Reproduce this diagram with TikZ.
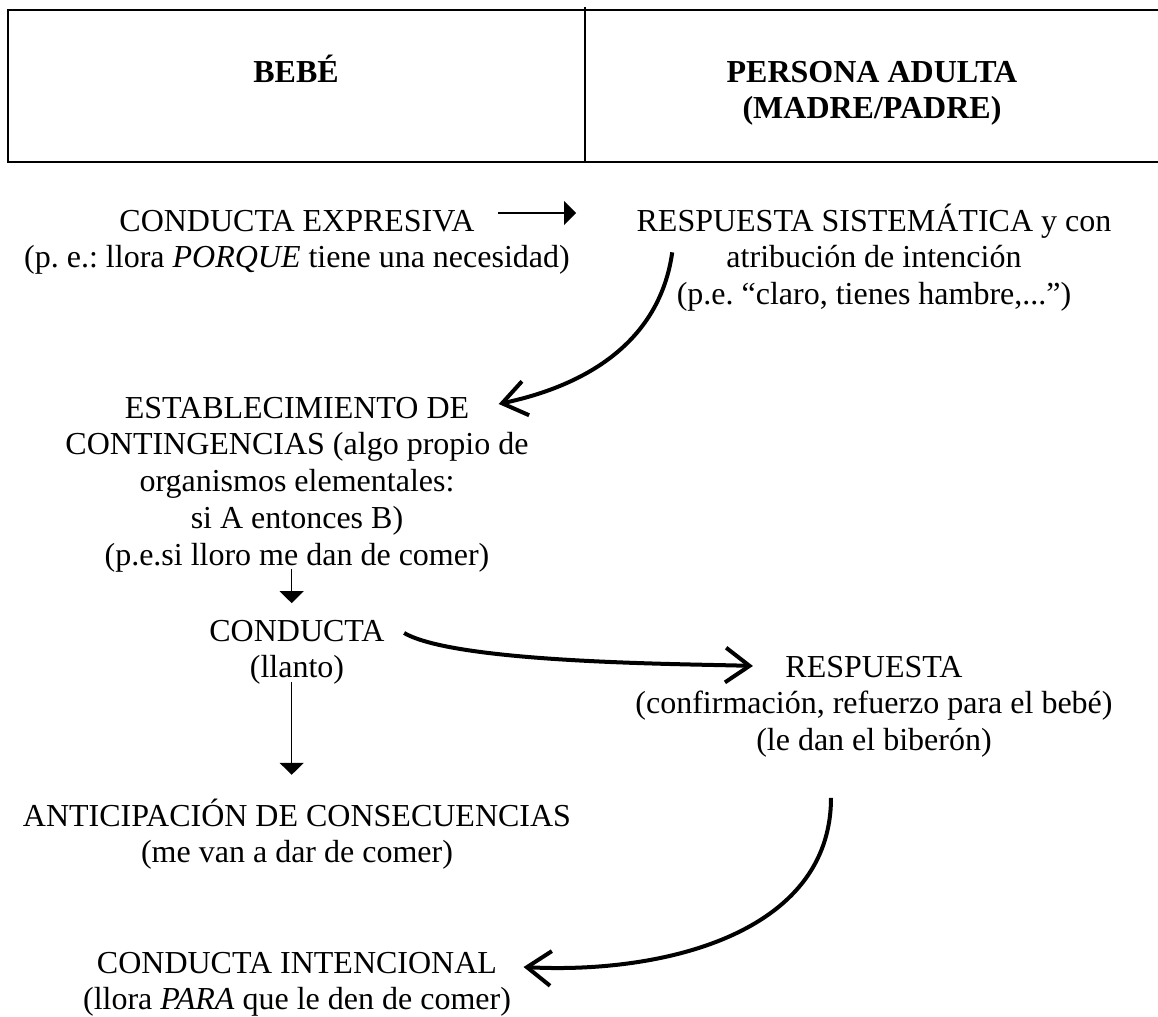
\documentclass[tikz,border=0pt]{standalone}
\usepackage{fontspec}
\setmainfont{Liberation Serif}
\usetikzlibrary{positioning}
\usetikzlibrary{arrows.meta}
\usetikzlibrary{calc}
\frenchspacing
\tikzstyle{title}=[inner sep=0pt, anchor=base, text height=9pt, text depth=3pt]
\tikzstyle{detail}=[inner sep=0pt, align=center]
\tikzstyle{head}=[title, font=\fontsize{12}{14}\selectfont\bfseries]
\tikzstyle{thinlink}=[-{Triangle[length=4.5pt, width=9pt]}, line width=0.6pt]
\tikzstyle{bentlink}=[-{Straight Barb[length=9pt, width=13pt]}, line width=1.5pt]

\begin{document}
\begin{tikzpicture}[x=0.375pt, y=-0.375pt, node distance=1.8pt, font=\fontsize{12}{13.9}\selectfont]
    \useasboundingbox (0,0) rectangle (1158,1017);

    % table header
    \draw[line width=0.75pt] (1158,10) -- (8,10) -- (8,162) -- (1158,162);
    \draw[line width=0.6pt] (585,7) -- (585,162);
    \node[head]                      (bebe)   at (296,82) {BEBÉ};
    \node[head]                      (adulto) at (872,82) {PERSONA ADULTA};
    \node[head, below = 1.3pt of adulto] (padres)          {(MADRE/PADRE)};

    % left column: the baby
    \node[title]                    (expr)   at (297,231) {CONDUCTA EXPRESIVA};
    \node[detail, below = of expr]  (exprd)  {(p. e.: llora \textit{PORQUE} tiene una necesidad)};
    \node[title]                    (estab)  at (297,418) {ESTABLECIMIENTO DE};
    \node[detail, below = of estab] (estabd) {CONTINGENCIAS (algo propio de\\organismos elementales:\\si A entonces B)\\(p.e.si lloro me dan de comer)};
    \node[title]                    (cond)   at (297,641) {CONDUCTA};
    \node[detail, below = of cond]  (condd)  {(llanto)};
    \node[title]                    (antic)  at (297,826) {ANTICIPACIÓN DE CONSECUENCIAS};
    \node[detail, below = of antic] (anticd) {(me van a dar de comer)};
    \node[title]                    (inten)  at (297,973) {CONDUCTA INTENCIONAL};
    \node[detail, below = of inten] (intend) {(llora \textit{PARA} que le den de comer)};

    % right column: the adult
    \node[title]                    (sist)   at (874,231) {RESPUESTA SISTEMÁTICA y con};
    \node[detail, below = of sist]  (sistd)  {atribución de intención\\(p.e. “claro, tienes hambre,...”)};
    \node[title]                    (resp)   at (874,677) {RESPUESTA};
    \node[detail, below = of resp]  (respd)  {(confirmación, refuerzo para el bebé)\\(le dan el biberón)};

    \draw[thinlink] ($(expr.east)+(23,-10)$) -- ($(sist.west)+(-60,-10)$);
    \draw[bentlink] ($(sistd.north west)+(-4,8)$) to[out=-98, in=12] ($(estab.east)+(29,-6)$);
    \draw[thinlink] ([xshift=-2pt, yshift=1.5pt]estabd.south) -- ([xshift=-2pt, yshift=5pt]cond.north);
    \draw[thinlink] ([xshift=-2pt, yshift=1pt]condd.south) -- ([xshift=-2pt, yshift=10pt]antic.north);
    \draw[bentlink] ($(cond.east)+(19,0)$) to[out=-30, in=178, looseness=0.45] ($(resp.west)+(-32,-3)$);
    \draw[bentlink] ($(respd.south)+(-43,40)$) to[out=-90, in=-3] ($(inten.east)+(26,2)$);
\end{tikzpicture}
\end{document}
